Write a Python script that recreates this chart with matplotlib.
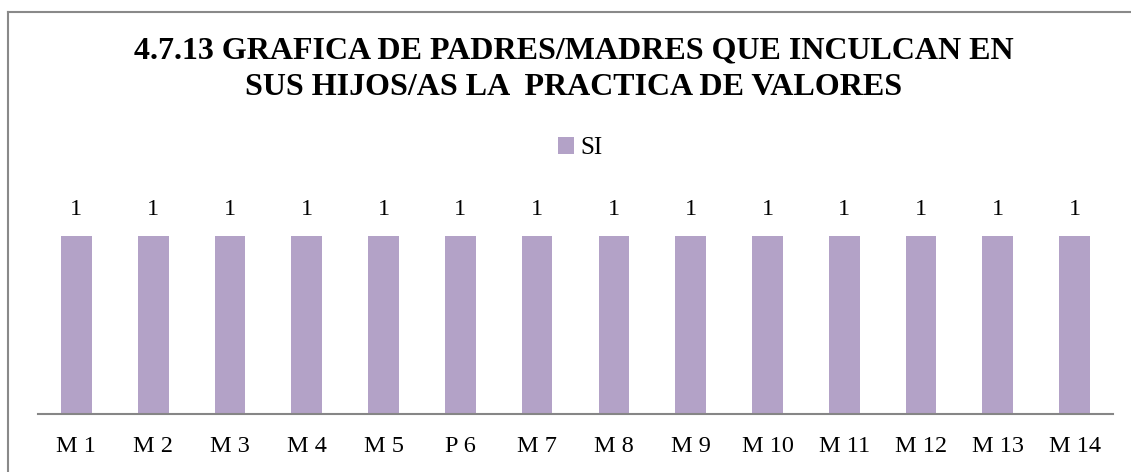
import matplotlib.pyplot as plt
from matplotlib.lines import Line2D

# === data ===
categories = ["M 1", "M 2", "M 3", "M 4", "M 5", "P 6", "M 7",
              "M 8", "M 9", "M 10", "M 11", "M 12", "M 13", "M 14"]
si_values = [1, 1, 1, 1, 1, 1, 1, 1, 1, 1, 1, 1, 1, 1]
title_lines = ["4.7.13 GRAFICA DE PADRES/MADRES QUE INCULCAN EN",
               "SUS HIJOS/AS LA  PRACTICA DE VALORES"]

W, H = 1131, 472
bar_color = "#B3A2C7"
plt.rcParams["font.family"] = ["Liberation Serif", "DejaVu Serif"]

fig = plt.figure(figsize=(W / 100, H / 100), dpi=100)

# plot area in pixel coords -> figure fractions
left, right, top, bottom = 38, 1113, 200, 414
ax = fig.add_axes([left / W, 1 - bottom / H, (right - left) / W, (bottom - top) / H])

x = range(len(categories))
bars = ax.bar(x, si_values, width=0.4, color=bar_color, label="SI")
ax.set_xlim(-0.5, len(categories) - 0.5)
ax.set_ylim(0, 1.2)

for rect, v in zip(bars, si_values):
    ax.annotate(f"{v}", (rect.get_x() + rect.get_width() / 2, v),
                xytext=(0, 11), textcoords="offset points",
                ha="center", va="bottom", fontsize=17.5)

ax.set_xticks(list(x))
ax.set_xticklabels(categories, fontsize=17.5)
ax.tick_params(axis="x", length=0, pad=16)
ax.set_yticks([])
for side in ["left", "right", "top"]:
    ax.spines[side].set_visible(False)
ax.spines["bottom"].set_color("#868686")
ax.spines["bottom"].set_linewidth(1.5)

# title
fig.text(574 / W, 1 - 51 / H, title_lines[0], ha="center", va="center",
         fontsize=23, fontweight="bold")
fig.text(574 / W, 1 - 87 / H, title_lines[1], ha="center", va="center",
         fontsize=23, fontweight="bold")

# legend
ax.legend(handles=[bars], labels=["SI"], loc="center",
          bbox_to_anchor=(580 / W, 1 - 148 / H), bbox_transform=fig.transFigure,
          frameon=False, fontsize=18, handlelength=0.65, handleheight=0.65,
          handletextpad=0.25)

# chart border (only top and left visible in the crop)
fig.add_artist(Line2D([8 / W, 8 / W], [0, 1 - 11.5 / H], color="#898989",
                      linewidth=1.5, transform=fig.transFigure))
fig.add_artist(Line2D([8 / W, 1], [1 - 11.5 / H, 1 - 11.5 / H], color="#898989",
                      linewidth=1.5, transform=fig.transFigure))

fig.savefig("out.png", dpi=100)
